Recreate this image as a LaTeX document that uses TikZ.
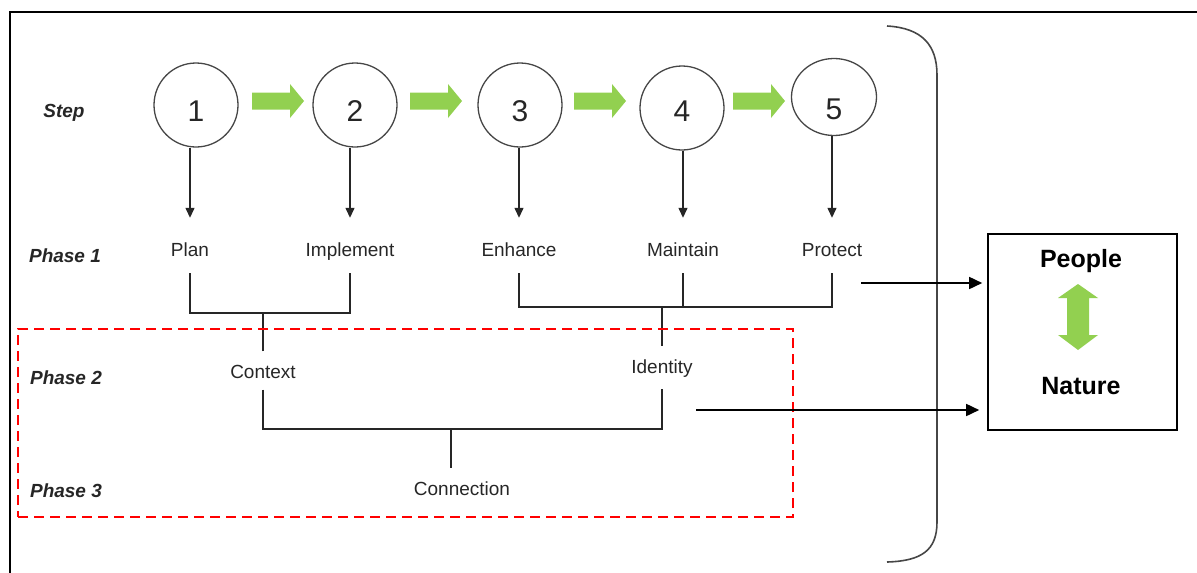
\documentclass[tikz,border=0pt]{standalone}
\usepackage{fontspec}
\setmainfont{Liberation Sans}
\usetikzlibrary{arrows.meta,calc,shapes.geometric}
\definecolor{leaf}{RGB}{146,208,80}
\definecolor{ink}{RGB}{38,38,38}
\definecolor{rim}{RGB}{70,70,70}
\begin{document}
\begin{tikzpicture}[x=1pt,y=-1pt,
  phase/.style={font=\fontsize{19}{22}\selectfont\bfseries\itshape, text=ink, inner sep=0pt},
  numcirc/.style={circle, draw=rim, line width=1.3pt, minimum size=84pt, inner sep=0pt},
  digit/.style={font=\fontsize{30}{34}\selectfont, text=ink, inner sep=0pt},
  numtag/.style 2 args={label={[digit,yshift=#1]center:#2}},
  lbltext/.style={font=\fontsize{19}{22}\selectfont, text=ink, inner sep=0pt,
    text height=14pt, text depth=4pt},
  slot/.style={inner sep=0pt, minimum width=40pt},
  tagged/.style 2 args={label={[lbltext,yshift=#1]center:#2}},
  link/.style={draw=ink, line width=1.3pt},
  down/.style={link, -{Triangle[length=10pt,width=9pt]}},
  outarrow/.style={draw=black, line width=1.6pt, -{Triangle[length=13pt,width=12pt]}},
  garrow/.pic={\fill[leaf] (0,-8.5) -- (38,-8.5) -- (38,-17) -- (52,0) -- (38,17)
      -- (38,8.5) -- (0,8.5) -- cycle;}
]
\useasboundingbox (0,0) rectangle (1197,573);

% outer frame, running off the right and bottom edges
\begin{scope}
  \clip (0,0) rectangle (1197,573);
  \draw[line width=2pt] (10,12) rectangle (1260,640);
\end{scope}

% row labels
\node[phase] (sstep) at (64,113) {Step};
\node[phase] (sp1) at (65,256) {Phase 1};
\node[phase] (sp2) at (66,378) {Phase 2};
\node[phase] (sp3) at (66,491) {Phase 3};

% numbered steps
\node[numcirc, numtag={-6pt}{1}] (c1) at (196,105) {};
\node[numcirc, numtag={-6pt}{2}] (c2) at (355,105) {};
\node[numcirc, numtag={-6pt}{3}] (c3) at (520,105) {};
\node[numcirc, numtag={-3pt}{4}] (c4) at (682,108) {};
\node[ellipse, draw=rim, line width=1.3pt, minimum width=85pt, minimum height=77pt,
  inner sep=0pt, numtag={-12pt}{5}] (c5) at (834,97) {};

% green progression arrows
\pic at (252,101) {garrow};
\pic at (410,101) {garrow};
\pic at (574,101) {garrow};
\pic at (733,101) {garrow};

% phase 1 actions
\node[slot, minimum height=55pt, tagged={-6pt}{Plan}]      (plan)  at (190,245.5) {};
\node[slot, minimum height=55pt, tagged={-6pt}{Implement}] (impl)  at (350,245.5) {};
\node[slot, minimum height=55pt, tagged={-6pt}{Enhance}]   (enh)   at (519,245.5) {};
\node[slot, minimum height=55pt, tagged={-6pt}{Maintain}]  (maint) at (683,245.5) {};
\node[slot, minimum height=55pt, tagged={-6pt}{Protect}]   (prot)  at (832,245.5) {};

\draw[down] (c1.south -| plan) -- (plan);
\draw[down] (c2.south -| impl) -- (impl);
\draw[down] (c3.south -| enh) -- (enh);
\draw[down] (c4.south -| maint) -- (maint);
\draw[down] (c5.south -| prot) -- (prot);

% phase 2 and 3 outcomes
\node[slot, minimum height=38pt, tagged={-3pt}{Context}]      (ctx)   at (263,370.5) {};
\node[slot, minimum height=43pt, tagged={-1pt}{Identity}]     (ident) at (662,367.5) {};
\node[slot, minimum height=40pt, tagged={-2.5pt}{Connection}] (conn)  at (462,488) {};

% grouping brackets
\draw[link] (plan) -- (plan |- 0,313) -| (impl);
\draw[link] (ctx) -- (ctx |- 0,313);
\draw[link] (enh) -- (enh |- 0,307) -| (prot);
\draw[link] (maint) -- (maint |- 0,307);
\draw[link] (ident) -- (ident |- 0,307);
\draw[link] (ctx) -- (ctx |- 0,429) -| (ident);
\coordinate (cj) at (451,429);
\draw[link] (cj) -- (cj |- conn.north);

% highlighted phases 2 and 3
\node[draw=red, line width=2.5pt, dash pattern=on 10pt off 6pt,
  minimum width=775pt, minimum height=188pt, inner sep=0pt] (focus) at (405.5,423) {};

% large closing bracket
\draw[draw=rim, line width=1.6pt] (887,26) .. controls (922,28) and (937,45) .. (937,75)
  -- (937,522) .. controls (937,550) and (922,561) .. (887,562);

% people and nature outcome box
\node[draw=black, line width=1.6pt, minimum width=189pt, minimum height=196pt,
  inner sep=0pt] (pn) at (1082.5,332) {};
\node[font=\fontsize{25}{28}\selectfont\bfseries, inner sep=0pt] (people) at (1081,261) {People};
\node[font=\fontsize{25}{28}\selectfont\bfseries, inner sep=0pt] (nature) at (1081,386) {Nature};
\fill[leaf] (1078,284) -- (1098,298) -- (1089,298) -- (1089,335) -- (1098,335)
  -- (1078,350) -- (1058,335) -- (1067,335) -- (1067,298) -- (1058,298) -- cycle;

% links into the outcome box
\coordinate (o1) at (861,283);
\coordinate (o2) at (696,410);
\draw[outarrow, shorten >=5pt] (o1) -- (o1 -| pn.west);
\draw[outarrow, shorten >=8pt] (o2) -- (o2 -| pn.west);
\end{tikzpicture}
\end{document}
